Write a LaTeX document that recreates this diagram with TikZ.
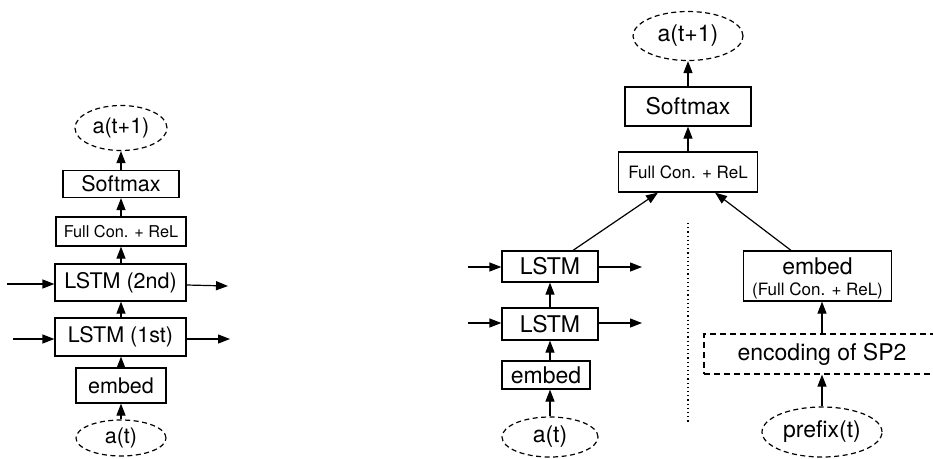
\documentclass[tikz,border=0pt]{standalone}
\usepackage{fontspec}
\setmainfont{TeX Gyre Heros}
\usetikzlibrary{shapes.geometric,arrows.meta,calc}

\newcommand{\mainL}{\fontsize{21.5}{24}\selectfont}
\newcommand{\mainR}{\fontsize{23}{26}\selectfont}
\newcommand{\smallL}{\fontsize{16.3}{18}\selectfont}
\newcommand{\smallR}{\fontsize{17}{19}\selectfont}

\tikzset{
  layer/.style={draw, line width=1.2pt, rectangle, inner sep=0pt, align=center},
  token/.style={draw, line width=1.2pt, ellipse, inner sep=0pt, dash pattern=on 5pt off 3.5pt},
  dashbox/.style={draw, line width=1.2pt, rectangle, inner sep=0pt, dash pattern=on 6pt off 4pt},
  flow/.style={line width=1.2pt, -{Triangle[length=12pt,width=9pt]}},
  sep/.style={line width=1.2pt, dash pattern=on 1.2pt off 3pt},
  caption/.style={inner sep=0pt}
}

\begin{document}
\begin{tikzpicture}[x=1pt,y=-1pt]
  \useasboundingbox (0,0) rectangle (933,458);
  \clip (0,0) rectangle (933,458);

  % ---------- single-input network ----------
  \node[token, minimum width=92pt, minimum height=45pt, font=\mainL] (lout) at (121,128) {a(t+1)};
  \node[layer, minimum width=116pt, minimum height=27pt, font=\mainL] (lsoft) at (121,184) {Softmax};
  \node[layer, minimum width=130pt, minimum height=29pt, font=\smallL] (lfc) at (121,231.5) {Full Con. + ReL};
  \node[layer, minimum width=131pt, minimum height=37pt, font=\mainL] (llstm2) at (120.5,282.5) {LSTM (2nd)};
  \node[layer, minimum width=131pt, minimum height=38pt, font=\mainL] (llstm1) at (120.5,337) {LSTM (1st)};
  \node[layer, minimum width=90pt, minimum height=35pt, font=\mainL] (lemb) at (121,385.5) {embed};
  \node[token, minimum width=90pt, minimum height=36pt, font=\mainL] (lin) at (121,438) {a(t)};

  \coordinate (l2in) at (7,284);
  \coordinate (l2out) at (228,286);
  \coordinate (l1in) at (13,339);
  \coordinate (l1out) at (230,339);

  \draw[flow] (lsoft.north) -- (lout.south);
  \draw[flow] (lfc.north) -- (lsoft.south);
  \draw[flow] (llstm2.north -| lfc.south) -- (lfc.south);
  \draw[flow] (llstm1.north -| lfc.south) -- (llstm2.south -| lfc.south);
  \draw[flow] (lemb.north) -- (llstm1.south -| lemb.north);
  \draw[flow] (lin.north) -- (lemb.south);
  \draw[flow] (l2in) -- (l2in -| llstm2.west);
  \draw[flow] (llstm2.east |- 0,285) -- (l2out);
  \draw[flow] (l1in) -- (l1in -| llstm1.west);
  \draw[flow] (llstm1.east |- l1out) -- (l1out);

  % ---------- two-branch network ----------
  \node[token, minimum width=110pt, minimum height=49pt, font=\mainR] (rout) at (688,36) {a(t+1)};
  \node[layer, minimum width=126pt, minimum height=39pt, font=\mainR] (rsoft) at (688,106.5) {Softmax};
  \node[layer, minimum width=139pt, minimum height=40pt, font=\smallR] (rfc) at (688,172) {Full Con. + ReL};

  \node[layer, minimum width=96pt, minimum height=31pt, font=\mainR] (rlstm2) at (550,266.5) {LSTM};
  \node[layer, minimum width=96pt, minimum height=32pt, font=\mainR] (rlstm1) at (550,324) {LSTM};
  \node[layer, minimum width=88pt, minimum height=28pt, font=\mainR] (remb) at (546,375) {embed};
  \node[token, minimum width=96pt, minimum height=40pt, font=\mainR] (rin) at (550,437) {a(t)};

  % prefix branch: embedding box with a two-line caption
  \node[layer, minimum width=148pt, minimum height=50pt] (rfe) at (817.5,276) {};
  \node[caption, font=\mainR, anchor=base] (rfetop) at (817.5,274) {embed};
  \node[caption, font=\smallR, anchor=base] (rfebot) at (817.5,295) {(Full Con. + ReL)};
  \node[dashbox, minimum width=236pt, minimum height=40pt, font=\mainR] (renc) at (822,354) {encoding of SP2};
  \node[token, minimum width=120pt, minimum height=50pt, font=\mainR] (rpre) at (822,432) {prefix(t)};

  \coordinate (r2in) at (468,267);
  \coordinate (r2out) at (642,267);
  \coordinate (r1in) at (468,323);
  \coordinate (r1out) at (642,323);
  \coordinate (septop) at (688,223);
  \coordinate (sepbot) at (688,422);

  \draw[flow] (rsoft.north) -- (rout.south);
  \draw[flow] (rfc.north) -- (rsoft.south);
  \draw[flow] ([xshift=23pt]rlstm2.north) -- ([xshift=-30pt]rfc.south);
  \draw[flow] ([xshift=-26.5pt]rfe.north) -- ([xshift=27pt]rfc.south);
  \draw[flow] (rlstm1.north) -- (rlstm2.south);
  \draw[flow] (rlstm1.south |- remb.north) -- (rlstm1.south);
  \draw[flow] (rin.north) -- (rin.north |- remb.south);
  \draw[flow] (r2in) -- (r2in -| rlstm2.west);
  \draw[flow] (rlstm2.east |- r2out) -- (r2out);
  \draw[flow] (r1in) -- (r1in -| rlstm1.west);
  \draw[flow] (rlstm1.east |- r1out) -- (r1out);
  \draw[flow] (renc.north -| rpre.north) -- (rfe.south -| rpre.north);
  \draw[flow] (rpre.north) -- (renc.south -| rpre.north);

  \draw[sep] (septop) -- (sepbot);
\end{tikzpicture}
\end{document}
